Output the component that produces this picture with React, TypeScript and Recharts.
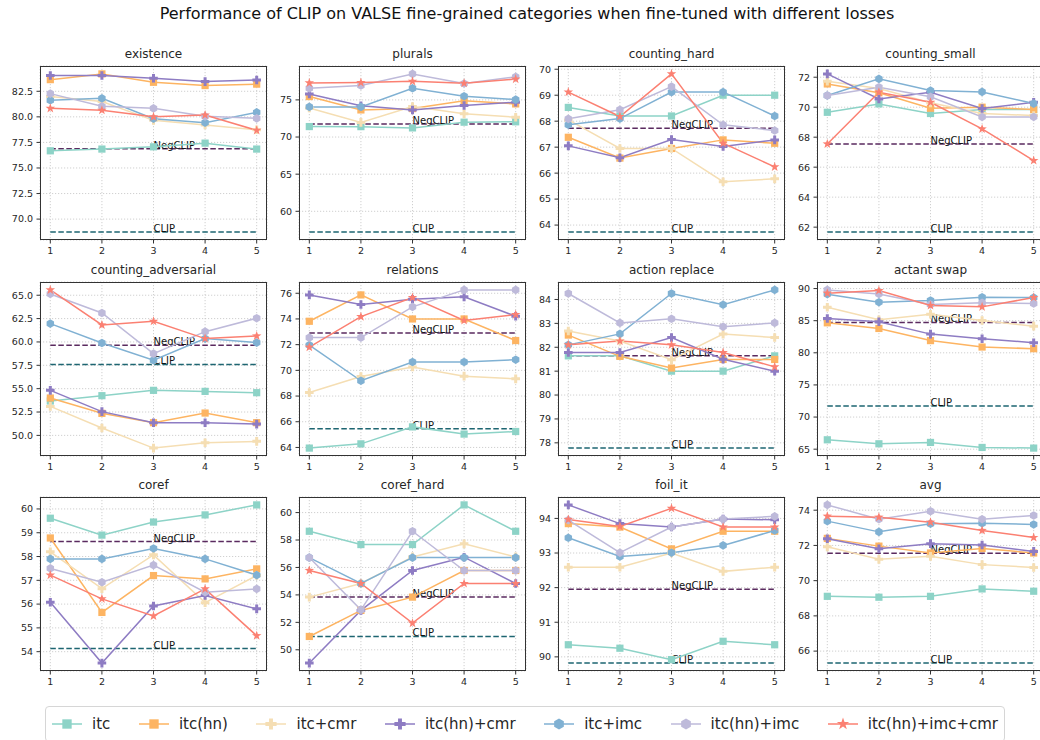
import React from "react";
import { LineChart, Line, XAxis, YAxis, CartesianGrid, ReferenceLine } from "recharts";

const steps = [1, 2, 3, 4, 5];

const seriesNames = ["itc", "itc(hn)", "itc+cmr", "itc(hn)+cmr", "itc+imc", "itc(hn)+imc", "itc(hn)+imc+cmr"];
const refNames = ["NegCLIP", "CLIP"];

// each panel: one row per entry of seriesNames; refs are [NegCLIP, CLIP]
const existence = [
  [76.68, 76.85, 77.07, 77.43, 76.85],
  [83.64, 84.2, 83.38, 83.06, 83.2],
  [82.0, 81.5, 79.66, 79.2, 78.74],
  [84.04, 84.04, 83.77, 83.45, 83.6],
  [81.62, 81.81, 79.82, 79.43, 80.44],
  [82.27, 81.03, 80.83, 80.05, 79.85],
  [80.83, 80.64, 80.0, 80.18, 78.68],
];
const existenceRefs = [76.88, 68.73];
const existenceTicks = [70, 72.5, 75, 77.5, 80, 82.5];

const plurals = [
  [71.41, 71.4, 71.23, 72.0, 72.05],
  [75.45, 73.65, 73.83, 74.9, 74.46],
  [73.92, 71.97, 74.1, 73.12, 72.67],
  [75.8, 74.2, 73.65, 74.24, 74.7],
  [74.06, 74.06, 76.57, 75.5, 75.04],
  [76.57, 76.93, 78.5, 77.2, 78.1],
  [77.29, 77.33, 77.5, 77.24, 77.8],
];
const pluralsRefs = [71.77, 57.2];
const pluralsTicks = [60, 65, 70, 75];

const countingHard = [
  [68.53, 68.2, 68.2, 69.0, 69.0],
  [67.38, 66.58, 66.95, 67.28, 67.15],
  [68.05, 66.95, 66.95, 65.67, 65.78],
  [67.05, 66.59, 67.29, 67.03, 67.28],
  [67.86, 68.1, 69.12, 69.12, 68.2],
  [68.09, 68.44, 69.33, 67.86, 67.64],
  [69.12, 68.18, 69.82, 67.15, 66.24],
];
const countingHardRefs = [67.73, 63.73];
const countingHardTicks = [64, 65, 66, 67, 68, 69, 70];

const countingSmall = [
  [69.66, 70.22, 69.58, 69.84, 69.84],
  [71.55, 70.96, 69.93, 70.0, 69.84],
  [71.73, 71.24, 70.29, 69.58, 69.44],
  [72.22, 70.55, 71.0, 69.91, 70.33],
  [70.78, 71.89, 71.11, 71.02, 70.24],
  [70.78, 71.33, 70.69, 69.35, 69.35],
  [67.55, 71.0, 70.33, 68.55, 66.44],
];
const countingSmallRefs = [67.55, 61.67];
const countingSmallTicks = [62, 64, 66, 68, 70, 72];

const countingAdversarial = [
  [53.68, 54.25, 54.82, 54.71, 54.57],
  [54.0, 52.36, 51.36, 52.39, 51.36],
  [53.1, 50.79, 48.64, 49.21, 49.36],
  [54.82, 52.54, 51.36, 51.36, 51.21],
  [61.96, 59.89, 58.04, 60.36, 59.93],
  [65.14, 63.1, 58.75, 61.1, 62.54],
  [65.57, 61.82, 62.21, 60.36, 60.64],
];
const countingAdversarialRefs = [59.64, 57.6];
const countingAdversarialTicks = [50, 52.5, 55, 57.5, 60, 62.5, 65];

const relations = [
  [63.95, 64.28, 65.6, 65.04, 65.24],
  [73.82, 75.87, 74.0, 74.0, 72.32],
  [68.28, 69.52, 70.26, 69.55, 69.34],
  [75.87, 75.12, 75.53, 75.72, 74.21],
  [71.96, 69.19, 70.65, 70.65, 70.83],
  [72.55, 72.55, 74.94, 76.26, 76.26],
  [71.8, 74.18, 75.66, 73.88, 74.34],
];
const relationsRefs = [72.91, 65.45];
const relationsTicks = [64, 66, 68, 70, 72, 74, 76];

const actionReplace = [
  [81.64, 81.64, 81.0, 81.0, 81.64],
  [82.51, 81.62, 81.13, 81.49, 81.49],
  [82.68, 82.26, 81.48, 82.55, 82.41],
  [81.78, 81.78, 82.41, 81.5, 81.0],
  [82.1, 82.56, 84.25, 83.78, 84.4],
  [84.25, 83.02, 83.19, 82.86, 83.02],
  [82.1, 82.26, 82.1, 81.78, 81.18],
];
const actionReplaceRefs = [81.64, 77.78];
const actionReplaceTicks = [78, 79, 80, 81, 82, 83, 84];

const actantSwap = [
  [66.46, 65.84, 66.05, 65.27, 65.17],
  [84.67, 83.79, 81.9, 80.9, 80.64],
  [87.1, 85.14, 86.0, 85.03, 84.15],
  [85.34, 84.83, 82.91, 82.19, 81.57],
  [89.12, 87.88, 88.14, 88.65, 88.6],
  [89.79, 89.17, 87.52, 87.8, 87.67],
  [89.28, 89.69, 87.36, 87.15, 88.6],
];
const actantSwapRefs = [84.72, 71.74];
const actantSwapTicks = [65, 70, 75, 80, 85, 90];

const coref = [
  [59.61, 58.9, 59.45, 59.75, 60.17],
  [58.78, 55.65, 57.2, 57.06, 57.48],
  [58.2, 56.65, 58.07, 56.06, 57.2],
  [56.08, 53.52, 55.92, 56.36, 55.8],
  [57.9, 57.9, 58.34, 57.9, 57.22],
  [57.5, 56.92, 57.64, 56.5, 56.64],
  [57.22, 56.22, 55.5, 56.64, 54.67],
];
const corefRefs = [58.63, 54.13];
const corefTicks = [54, 55, 56, 57, 58, 59, 60];

const corefHard = [
  [58.64, 57.67, 57.67, 60.56, 58.64],
  [50.97, 52.87, 53.84, 55.78, 55.78],
  [53.84, 54.83, 56.77, 57.72, 56.77],
  [49.03, 52.87, 55.78, 56.75, 54.83],
  [56.72, 54.83, 56.72, 56.72, 56.72],
  [56.72, 52.91, 58.64, 55.78, 55.78],
  [55.78, 54.83, 51.94, 54.83, 54.83],
];
const corefHardRefs = [53.84, 50.97];
const corefHardTicks = [50, 52, 54, 56, 58, 60];

const foilIt = [
  [90.35, 90.25, 89.92, 90.45, 90.35],
  [93.85, 93.75, 93.12, 93.63, 93.63],
  [92.59, 92.59, 93.0, 92.47, 92.59],
  [94.39, 93.85, 93.75, 93.98, 93.96],
  [93.44, 92.9, 93.01, 93.22, 93.65],
  [93.95, 93.01, 93.75, 93.98, 94.06],
  [93.97, 93.77, 94.29, 93.75, 93.75],
];
const foilItRefs = [91.95, 89.82];
const foilItTicks = [90, 91, 92, 93, 94];

const avg = [
  [69.11, 69.06, 69.11, 69.53, 69.4],
  [72.4, 71.96, 71.57, 71.83, 71.57],
  [71.92, 71.21, 71.38, 70.91, 70.75],
  [72.38, 71.81, 72.1, 72.02, 71.66],
  [73.38, 72.77, 73.23, 73.26, 73.19],
  [74.3, 73.49, 73.94, 73.49, 73.7],
  [73.66, 73.6, 73.32, 72.85, 72.45],
];
const avgRefs = [71.55, 65.32];
const avgTicks = [66, 68, 70, 72, 74];

const panels = [
  { title: "existence", values: existence, refs: existenceRefs, ticks: existenceTicks, digits: 1 },
  { title: "plurals", values: plurals, refs: pluralsRefs, ticks: pluralsTicks, digits: 0 },
  { title: "counting_hard", values: countingHard, refs: countingHardRefs, ticks: countingHardTicks, digits: 0 },
  { title: "counting_small", values: countingSmall, refs: countingSmallRefs, ticks: countingSmallTicks, digits: 0 },
  { title: "counting_adversarial", values: countingAdversarial, refs: countingAdversarialRefs, ticks: countingAdversarialTicks, digits: 1 },
  { title: "relations", values: relations, refs: relationsRefs, ticks: relationsTicks, digits: 0 },
  { title: "action replace", values: actionReplace, refs: actionReplaceRefs, ticks: actionReplaceTicks, digits: 0 },
  { title: "actant swap", values: actantSwap, refs: actantSwapRefs, ticks: actantSwapTicks, digits: 0 },
  { title: "coref", values: coref, refs: corefRefs, ticks: corefTicks, digits: 0 },
  { title: "coref_hard", values: corefHard, refs: corefHardRefs, ticks: corefHardTicks, digits: 0 },
  { title: "foil_it", values: foilIt, refs: foilItRefs, ticks: foilItTicks, digits: 0 },
  { title: "avg", values: avg, refs: avgRefs, ticks: avgTicks, digits: 0 },
];

const COLORS = ["#8dd3c7", "#fdb462", "#f5deb3", "#8e7cc3", "#80b1d3", "#bebada", "#fb8072"];
const SHAPES = ["square", "square", "plus", "plus", "hex", "hex", "star"];
const REF_COLORS = ["#5a2a5f", "#1d6571"];

const FONT = "'DejaVu Sans', sans-serif";
const COL_LEFT = [40, 299, 558, 817];
const ROW_TOP = [66, 282, 497];
const AX_W = 227;
const AX_H = 174;
const PAD_L = 40;
const PAD_T = 4;

function polygon(cx: number, cy: number, pts: number[][]) {
  return pts.map(([x, y]) => `${(cx + x).toFixed(2)},${(cy + y).toFixed(2)}`).join(" ");
}

function Marker({ shape, cx, cy, color, scale = 1 }: any) {
  if (cx == null || cy == null) return null;
  if (shape === "square") {
    const h = 3.6 * scale;
    return <rect x={cx - h} y={cy - h} width={2 * h} height={2 * h} fill={color} />;
  }
  if (shape === "plus") {
    const a = 4.3 * scale;
    const t = 1.5 * scale;
    const pts = [[-t, -a], [t, -a], [t, -t], [a, -t], [a, t], [t, t], [t, a], [-t, a], [-t, t], [-a, t], [-a, -t], [-t, -t]];
    return <polygon points={polygon(cx, cy, pts)} fill={color} />;
  }
  if (shape === "hex") {
    const r = 4.3 * scale;
    const pts = [0, 1, 2, 3, 4, 5].map((k) => {
      const ang = ((-90 + 60 * k) * Math.PI) / 180;
      return [r * Math.cos(ang), r * Math.sin(ang)];
    });
    return <polygon points={polygon(cx, cy, pts)} fill={color} />;
  }
  const ro = 5 * scale;
  const ri = 2 * scale;
  const pts = Array.from({ length: 10 }, (_, k) => {
    const r = k % 2 === 0 ? ro : ri;
    const ang = ((-90 + 36 * k) * Math.PI) / 180;
    return [r * Math.cos(ang), r * Math.sin(ang)];
  });
  return <polygon points={polygon(cx, cy, pts)} fill={color} />;
}

function Panel({ panel, left, top }: any) {
  const rows = steps.map((x, j) => {
    const row: any = { x };
    panel.values.forEach((s: number[], i: number) => {
      row["s" + i] = s[j];
    });
    return row;
  });
  const all = panel.values.flat().concat(panel.refs);
  const lo = Math.min(...all);
  const hi = Math.max(...all);
  const m = (hi - lo) * 0.05;
  const tickStyle = { fontSize: 9.5, fill: "#262626", fontFamily: FONT };

  return (
    <>
      <div
        style={{
          position: "absolute",
          left,
          top: top - 20,
          width: AX_W,
          textAlign: "center",
          fontSize: 12,
          lineHeight: "16px",
          color: "#262626",
          fontFamily: FONT,
        }}
      >
        {panel.title}
      </div>
      <div style={{ position: "absolute", left: left - PAD_L, top: top - PAD_T }}>
        <LineChart
          width={PAD_L + AX_W + 2}
          height={PAD_T + AX_H + 24}
          data={rows}
          margin={{ top: PAD_T, right: 2, bottom: 0, left: 0 }}
        >
          <CartesianGrid stroke="#c4c4c4" strokeDasharray="1.2 1.8" strokeWidth={0.8} />
          <XAxis
            dataKey="x"
            type="number"
            domain={[0.8, 5.2]}
            allowDataOverflow
            ticks={steps}
            height={24}
            axisLine={false}
            tickSize={3.5}
            tickMargin={4}
            tickLine={{ stroke: "#333" }}
            tick={tickStyle}
          />
          <YAxis
            type="number"
            domain={[lo - m, hi + m]}
            allowDataOverflow
            ticks={panel.ticks}
            width={PAD_L}
            axisLine={false}
            tickSize={3.5}
            tickMargin={3.5}
            tickLine={{ stroke: "#333" }}
            tick={tickStyle}
            tickFormatter={(v: number) => v.toFixed(panel.digits)}
          />
          {panel.refs.map((v: number, k: number) => (
            <ReferenceLine
              key={refNames[k]}
              segment={[
                { x: 1, y: v },
                { x: 5, y: v },
              ]}
              stroke={REF_COLORS[k]}
              strokeWidth={1.5}
              strokeDasharray="5.5 2.5"
              label={(p: any) => (
                <text
                  x={p.viewBox.x + p.viewBox.width / 2}
                  y={p.viewBox.y}
                  fontSize={10}
                  fill="#111"
                  fontFamily={FONT}
                  textAnchor="start"
                >
                  {refNames[k]}
                </text>
              )}
            />
          ))}
          {seriesNames.map((name, i) => (
            <Line
              key={name}
              type="linear"
              dataKey={"s" + i}
              name={name}
              stroke={COLORS[i]}
              strokeWidth={1.5}
              isAnimationActive={false}
              activeDot={false}
              dot={(p: any) => (
                <Marker key={`${name}-${p.index}`} shape={SHAPES[i]} cx={p.cx} cy={p.cy} color={COLORS[i]} />
              )}
            />
          ))}
        </LineChart>
      </div>
      <div
        style={{
          position: "absolute",
          left,
          top,
          width: AX_W,
          height: AX_H,
          border: "1px solid #333",
          boxSizing: "border-box",
          pointerEvents: "none",
        }}
      />
    </>
  );
}

function LegendBox() {
  return (
    <div
      style={{
        position: "absolute",
        left: 45,
        top: 706,
        width: 960,
        height: 36,
        border: "1px solid #d6d6d6",
        borderRadius: 4,
        boxSizing: "border-box",
        display: "flex",
        justifyContent: "space-between",
        alignItems: "center",
        padding: "0 6px",
        fontFamily: FONT,
        fontSize: 15,
        color: "#262626",
      }}
    >
      {seriesNames.map((name, i) => (
        <div key={name} style={{ display: "flex", alignItems: "center" }}>
          <svg width={30} height={16}>
            <line x1={0} y1={8} x2={30} y2={8} stroke={COLORS[i]} strokeWidth={1.5} />
            <Marker shape={SHAPES[i]} cx={15} cy={8} color={COLORS[i]} scale={1.3} />
          </svg>
          <span style={{ marginLeft: 10 }}>{name}</span>
        </div>
      ))}
    </div>
  );
}

export default function App() {
  return (
    <div
      style={{
        position: "absolute",
        left: 0,
        top: 0,
        width: 1040,
        height: 740,
        overflow: "hidden",
        background: "#fff",
        fontFamily: FONT,
      }}
    >
      <div
        style={{
          position: "absolute",
          left: 0,
          top: 4,
          width: 1054,
          textAlign: "center",
          fontSize: 16,
          lineHeight: "20px",
          color: "#111",
        }}
      >
        Performance of CLIP on VALSE fine-grained categories when fine-tuned with different losses
      </div>
      {panels.map((p, idx) => (
        <Panel key={p.title} panel={p} left={COL_LEFT[idx % 4]} top={ROW_TOP[Math.floor(idx / 4)]} />
      ))}
      <LegendBox />
    </div>
  );
}
